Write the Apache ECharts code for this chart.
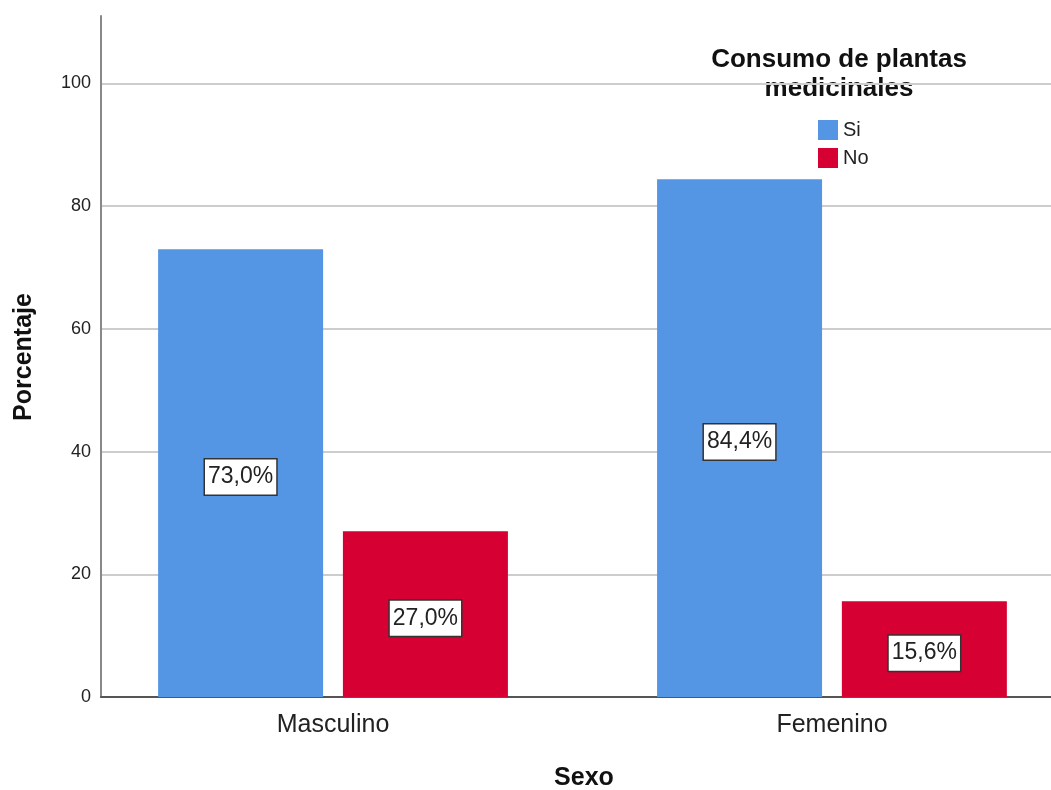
<!DOCTYPE html>
<html>
<head>
<meta charset="utf-8">
<script src="https://cdn.jsdelivr.net/npm/echarts@6/dist/echarts.min.js"></script>
<style>
html,body{margin:0;padding:0;background:#fff;}
#chart{width:1051px;height:790px;}
</style>
</head>
<body>
<div id="chart"></div>
<script>
const categories = ['Masculino', 'Femenino'];
const seriesNames = ['Si', 'No'];
const siValues = [73.0, 84.4];
const noValues = [27.0, 15.6];
const yTicks = [0, 20, 40, 60, 80, 100];

const FONT = "'Liberation Sans', Arial, sans-serif";
const chart = echarts.init(document.getElementById('chart'));

const catIdx = categories.map((c, i) => i);
function pairs(vals) { return vals.map((v, i) => [i, v]); }

function fmt(p) {
  return p.value[1].toFixed(1).replace('.', ',') + '%';
}
const labelStyle = {
  show: true,
  position: 'inside',
  offset: [0, 4],
  formatter: fmt,
  fontFamily: FONT,
  fontSize: 23,
  color: '#222',
  backgroundColor: '#fff',
  borderColor: '#333',
  borderWidth: 1.5,
  padding: [5, 3, 4, 3],
  lineHeight: 26
};

// x-axis range chosen so category centers land where the reference puts them
const xMin = -0.465;
const xMax = 1.439;

const option = {
  animation: false,
  backgroundColor: '#fff',
  grid: { left: 101, right: 0, top: 16, bottom: 93 },
  xAxis: {
    type: 'value', min: xMin, max: xMax,
    axisLine: { show: true, onZero: false, lineStyle: { color: '#555', width: 2 } },
    axisTick: { show: false },
    splitLine: { show: false },
    axisLabel: {
      customValues: catIdx,
      formatter: v => categories[Math.round(v)] || '',
      fontFamily: FONT, fontSize: 25, color: '#222', margin: 16
    }
  },
  yAxis: {
    type: 'value', min: 0, max: 111, interval: 20,
    axisLine: { show: true, onZero: false, lineStyle: { color: '#888', width: 2 } },
    axisTick: { show: false },
    axisLabel: { fontFamily: FONT, fontSize: 18, color: '#222', margin: 10,
      formatter: v => (yTicks.indexOf(v) >= 0 ? String(v) : '') },
    splitLine: { show: true, showMinLine: false, showMaxLine: false,
      lineStyle: { color: '#cdcdcd', width: 2 } }
  },
  legend: {
    orient: 'vertical',
    left: 813, top: 115,
    itemWidth: 20, itemHeight: 20, itemGap: 8,
    icon: 'rect',
    textStyle: { fontFamily: FONT, fontSize: 20, color: '#222', padding: [2, 0, 0, 0] },
    data: seriesNames
  },
  series: [
    { name: seriesNames[0], type: 'bar',
      data: pairs(siValues), barWidth: 165, barGap: '12%',
      itemStyle: { color: '#5596e4' }, label: labelStyle },
    { name: seriesNames[1], type: 'bar',
      data: pairs(noValues), barWidth: 165, barGap: '12%',
      itemStyle: { color: '#d60032' }, label: labelStyle }
  ],
  graphic: [
    { type: 'text', x: 839, y: 45,
      style: { text: 'Consumo de plantas\nmedicinales', fontFamily: FONT, fontWeight: 'bold',
        fontSize: 26, lineHeight: 29, fill: '#111', textAlign: 'center', textVerticalAlign: 'top' } },
    { type: 'text', x: 24, y: 357, rotation: Math.PI / 2,
      style: { text: 'Porcentaje', fontFamily: FONT, fontWeight: 'bold', fontSize: 25,
        fill: '#111', textAlign: 'center', textVerticalAlign: 'middle' } },
    { type: 'text', x: 584, y: 778,
      style: { text: 'Sexo', fontFamily: FONT, fontWeight: 'bold', fontSize: 25,
        fill: '#111', textAlign: 'center', textVerticalAlign: 'middle' } }
  ]
};
chart.setOption(option);
</script>
</body>
</html>
